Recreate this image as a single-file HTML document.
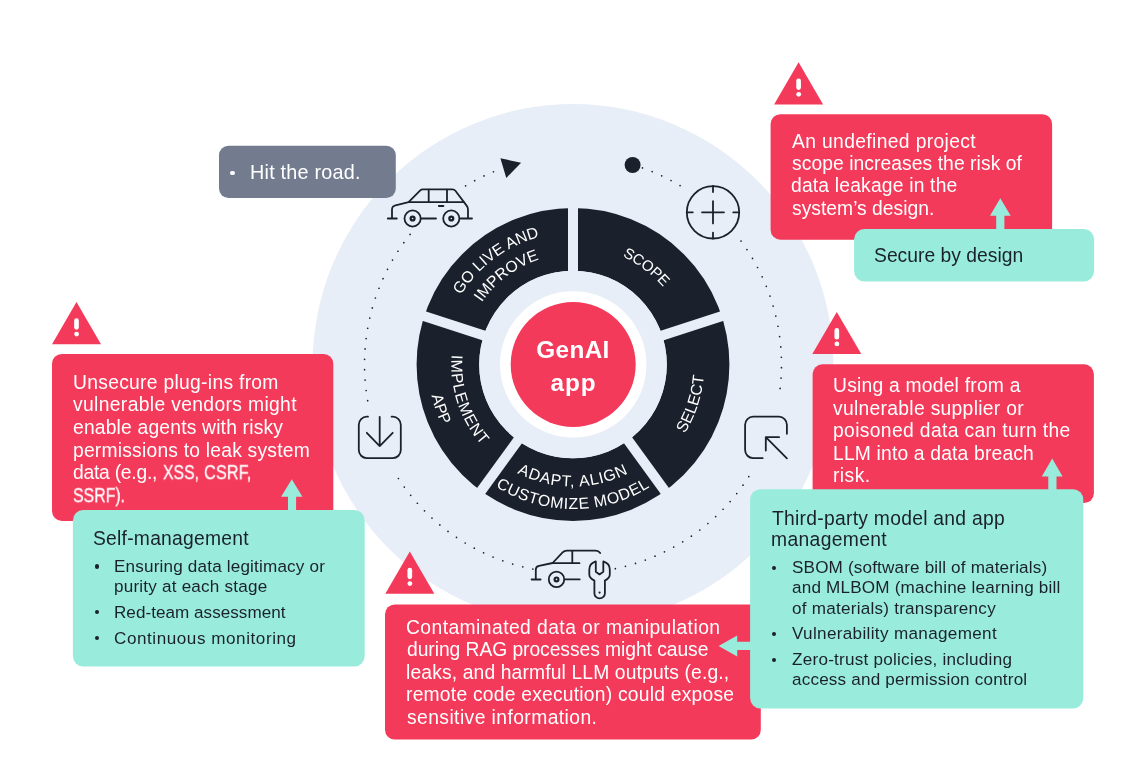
<!DOCTYPE html>
<html lang="en">
<head>
<meta charset="utf-8">
<title>GenAI app lifecycle risks</title>
<style>
html,body{margin:0;padding:0;background:#fff;}
body{width:1146px;height:782px;position:relative;overflow:hidden;font-family:"Liberation Sans",sans-serif;}
#stage{position:absolute;left:0;top:0;width:1146px;height:782px;overflow:hidden;background:#fff;}
svg{position:absolute;left:0;top:0;will-change:transform;}
.ln{position:absolute;white-space:nowrap;line-height:1;will-change:transform;font-size:19.3px;transform:translateY(-0.82em);}
.bl{position:absolute;width:4.2px;height:4.2px;border-radius:50%;background:#1b212c;}
.lab{font-family:"Liberation Sans",sans-serif;font-size:15.8px;fill:#fff;}
.ctr{font-family:"Liberation Sans",sans-serif;font-weight:bold;font-size:24.3px;fill:#fff;text-anchor:middle;}
</style>
</head>
<body>
<div id="stage">

<!-- background circle, ring, icons -->
<svg id="bg" width="1146" height="782" viewBox="0 0 1146 782">
  <circle cx="573" cy="364.5" r="260.4" fill="#e8eef7"/>
  <!-- dotted orbit -->
  <g fill="none" stroke="#1b212c" stroke-width="1.7" stroke-linecap="round" stroke-dasharray="0 10.4">
    <path d="M632.57 164.69A208.5 208.5 0 0 1 680.39 185.78"/>
    <path d="M741.04 241.07A208.5 208.5 0 0 1 778.70 398.55"/>
    <path d="M748.79 476.62A208.5 208.5 0 0 1 614.92 568.74"/>
    <path d="M532.86 569.10A208.5 208.5 0 0 1 397.74 477.45"/>
    <path d="M367.67 400.71A208.5 208.5 0 0 1 412.35 231.60"/>
    <path d="M465.61 185.78A208.5 208.5 0 0 1 502.37 168.33"/>
  </g>
  <!-- start dot and arrow head -->
  <circle cx="632.6" cy="165" r="8" fill="#1b212c"/>
  <path d="M500.4 158.2L521.1 162.8L506.3 177.9Z" fill="#1b212c"/>
  <!-- segmented ring -->
  <circle cx="573" cy="364.5" r="125.1" fill="none" stroke="#1b212c" stroke-width="62.6"/>
  <g stroke="#e8eef7" stroke-width="10" fill="none">
    <path d="M573 364.5L573 199.5"/>
    <path d="M573 364.5L729.92 313.51"/>
    <path d="M573 364.5L669.98 497.99"/>
    <path d="M573 364.5L476.02 497.99"/>
    <path d="M573 364.5L416.08 313.51"/>
  </g>
  <circle cx="573" cy="364.5" r="93.8" fill="#e8eef7"/>
  <circle cx="573.2" cy="364.4" r="73.2" fill="#fff"/>
  <circle cx="573.2" cy="364.4" r="62.5" fill="#f43a5a"/>
  <text class="ctr" x="573" y="357.6" style="letter-spacing:0.4px">GenAI</text>
  <text class="ctr" x="573.6" y="390.6" style="letter-spacing:1px">app</text>

  <!-- ring labels -->
  <defs>
    <path id="p-scope" d="M526.39 255.23A118.8 118.8 0 0 1 690.94 378.77"/>
    <path id="p-go" d="M442.05 379.42A131.8 131.8 0 0 1 625.56 243.63"/>
    <path id="p-imp" d="M463.48 377.56A110.3 110.3 0 0 1 616.45 263.12"/>
    <path id="p-select" d="M599.65 493.17A131.4 131.4 0 0 0 671.11 277.09"/>
    <path id="p-adapt" d="M467.34 425.50A122 122 0 0 0 678.66 425.50"/>
    <path id="p-cust" d="M447.86 436.75A144.5 144.5 0 0 0 698.14 436.75"/>
    <path id="p-impl" d="M481.71 284.02A121.7 121.7 0 0 0 548.95 483.80"/>
    <path id="p-app" d="M464.46 268.81A144.7 144.7 0 0 0 544.40 506.35"/>
  </defs>
  <g class="lab" text-anchor="middle">
    <text style="font-size:15px;letter-spacing:-0.3px"><textPath href="#p-scope" startOffset="50%">SCOPE</textPath></text>
    <text><textPath href="#p-go" startOffset="50%">GO LIVE AND</textPath></text>
    <text><textPath href="#p-imp" startOffset="50%">IMPROVE</textPath></text>
    <text><textPath href="#p-select" startOffset="50%">SELECT</textPath></text>
    <text style="letter-spacing:0.8px"><textPath href="#p-adapt" startOffset="50%">ADAPT, ALIGN</textPath></text>
    <text style="letter-spacing:0.65px"><textPath href="#p-cust" startOffset="50%">CUSTOMIZE MODEL</textPath></text>
    <text style="letter-spacing:0.7px"><textPath href="#p-impl" startOffset="50%">IMPLEMENT</textPath></text>
    <text><textPath href="#p-app" startOffset="50%">APP</textPath></text>
  </g>

  <!-- icons -->
  <g fill="none" stroke="#1b212c" stroke-width="1.8" stroke-linecap="round" stroke-linejoin="round">
    <!-- car (go live) -->
    <path d="M387.8 218.5H396.8M392 218.5V209.5Q392 206.2 395.5 205.4L408.6 202.1L420 190.6Q421.2 189.4 423 189.4H452.5Q454.3 189.4 455.4 190.8L466.6 205.6Q468 207.4 468 209.5V218.5M460.6 218.5H472"/>
    <path d="M408.6 202.1H463.8M428.7 189.6V202M447 189.6V202M438.8 206H443.4M421.4 218.5H436"/>
    <circle cx="412.6" cy="218.5" r="8.1"/><circle cx="451.3" cy="218.5" r="8.1"/>
    <circle cx="412.6" cy="218.5" r="1.95" stroke-width="2.3"/><circle cx="451.3" cy="218.5" r="1.95" stroke-width="2.3"/>
    <!-- crosshair (scope) -->
    <circle cx="713" cy="212.3" r="26.2"/>
    <path d="M702 212.3H724M713 201.2V223.4M713 186V192M713 232.6V238.6M686.8 212.3H692.8M733.2 212.3H739.2"/>
    <!-- select -->
    <path d="M786.9 433.8V424.7A8 8 0 0 0 778.9 416.7H753.1A8 8 0 0 0 745.1 424.7V450.1A8 8 0 0 0 753.1 458.1H762.7"/>
    <path d="M779.1 437.2H765.8V450.6M765.8 437.2L786.9 458.4"/>
    <!-- download (implement) -->
    <path d="M368 416.7H366.8A8 8 0 0 0 358.8 424.7V450.1A8 8 0 0 0 366.8 458.1H392.8A8 8 0 0 0 400.8 450.1V424.7A8 8 0 0 0 392.8 416.7H391.6"/>
    <path d="M379.7 416.8V446M366.8 432.8L379.7 446.1L392.7 432.8"/>
    <!-- car + wrench (adapt) -->
    <path d="M531.6 579.5H540.6M535.8 579.5V569.6Q535.8 566.6 539 565.9L552.6 563L562.6 552.4Q564.3 550.6 567 550.6H595.6Q598.6 550.6 600.2 553"/>
    <path d="M552.6 563.2H579.5M572.3 550.8V563M565.2 579.4H579.7"/>
    <circle cx="556.5" cy="579.4" r="7.7"/><circle cx="556.5" cy="579.4" r="1.9" stroke-width="2.2"/>
    <path d="M595.8 561.4V571.7L599.5 574.4L603.3 571.7V561.4Q609.8 563.4 609.8 569.5V574.5Q609.8 578 604.9 580.6V593.2A5.25 5.25 0 0 1 594.4 593.2V580.6Q589.3 578 589.3 574.5V569.5Q589.3 563.4 595.8 561.4Z"/>
  </g>
  <circle cx="599.6" cy="592.6" r="1.1" fill="#1b212c"/>

  <!-- warning triangles -->
  <g id="warn">
    <g transform="translate(798.6 62.3)"><path d="M0 0L24.5 42.1H-24.5Z" fill="#f43a5a"/><rect x="-2.35" y="16.2" width="4.7" height="11.4" rx="2.35" fill="#fff"/><circle cx="0.1" cy="32" r="2.4" fill="#fff"/></g>
    <g transform="translate(836.8 311.9)"><path d="M0 0L24.5 42.1H-24.5Z" fill="#f43a5a"/><rect x="-2.35" y="16.2" width="4.7" height="11.4" rx="2.35" fill="#fff"/><circle cx="0.1" cy="32" r="2.4" fill="#fff"/></g>
    <g transform="translate(409.8 551.6)"><path d="M0 0L24.5 42.1H-24.5Z" fill="#f43a5a"/><rect x="-2.35" y="16.2" width="4.7" height="11.4" rx="2.35" fill="#fff"/><circle cx="0.1" cy="32" r="2.4" fill="#fff"/></g>
    <g transform="translate(76.5 302.1)"><path d="M0 0L24.5 42.1H-24.5Z" fill="#f43a5a"/><rect x="-2.35" y="16.2" width="4.7" height="11.4" rx="2.35" fill="#fff"/><circle cx="0.1" cy="32" r="2.4" fill="#fff"/></g>
  </g>
</svg>

<!-- boxes and connector arrows -->
<svg id="arrows" width="1146" height="782" viewBox="0 0 1146 782">
  <!-- grey note, red risk boxes, teal mitigation boxes -->
  <rect x="219.0" y="145.7" width="176.8" height="52.3" rx="9.5" fill="#737c8e"/>
  <rect x="770.6" y="114.2" width="281.5" height="125.5" rx="9.8" fill="#f43a5a"/>
  <rect x="812.6" y="364.3" width="281.3" height="138.7" rx="9.8" fill="#f43a5a"/>
  <rect x="385.0" y="604.4" width="375.8" height="135.1" rx="9.8" fill="#f43a5a"/>
  <rect x="52.0" y="354.0" width="281.3" height="166.9" rx="9.8" fill="#f43a5a"/>
  <rect x="854.1" y="229.0" width="240.0" height="52.4" rx="10.3" fill="#99ecdc"/>
  <rect x="750.1" y="489.3" width="333.2" height="219.1" rx="10.3" fill="#99ecdc"/>
  <rect x="72.9" y="510.1" width="291.8" height="156.3" rx="10.3" fill="#99ecdc"/>
  <g fill="#99ecdc">
    <path d="M1000.3 198.2L1010.7 215.7H1004.4V231H996.2V215.7H990Z"/>
    <path d="M1052.2 458.4L1062.6 476.4H1056.5V491H1048.3V476.4H1041.8Z"/>
    <path d="M291.8 479.3L302.4 496.8H296.1V512H288V496.8H281.1Z"/>
    <path d="M718.6 645.9L737.2 635.5V641.8H752V650.1H737.2V656.4Z"/>
  </g>
</svg>

<!-- bullets -->
<div class="bl" style="left:230.3px;top:170.5px;width:4.7px;height:4.7px;background:#fff;"></div>
<div class="bl" style="left:772.1px;top:566.3px;"></div>
<div class="bl" style="left:772.1px;top:632.0px;"></div>
<div class="bl" style="left:772.1px;top:658.2px;"></div>
<div class="bl" style="left:94.8px;top:564.4px;"></div>
<div class="bl" style="left:94.8px;top:610.2px;"></div>
<div class="bl" style="left:94.8px;top:636.1px;"></div>
<!-- text lines -->
<div class="ln" style="left:249.5px;top:178.7px;color:#fff;font-size:19.8px;letter-spacing:0.223px;">Hit the road.</div>
<div class="ln" style="left:791.6px;top:147.5px;color:#fff;letter-spacing:0.356px;">An undefined project</div>
<div class="ln" style="left:791.7px;top:169.9px;color:#fff;letter-spacing:0.063px;">scope increases the risk of</div>
<div class="ln" style="left:791.0px;top:192.4px;color:#fff;letter-spacing:0.184px;">data leakage in the</div>
<div class="ln" style="left:791.7px;top:214.8px;color:#fff;letter-spacing:0.014px;">system’s design.</div>
<div class="ln" style="left:833.0px;top:391.8px;color:#fff;letter-spacing:0.221px;">Using a model from a</div>
<div class="ln" style="left:833.0px;top:414.5px;color:#fff;letter-spacing:0.300px;">vulnerable supplier or</div>
<div class="ln" style="left:833.2px;top:437px;color:#fff;letter-spacing:0.356px;">poisoned data can turn the</div>
<div class="ln" style="left:832.9px;top:459.6px;color:#fff;letter-spacing:0.171px;">LLM into a data breach</div>
<div class="ln" style="left:833.2px;top:482px;color:#fff;letter-spacing:0.428px;">risk.</div>
<div class="ln" style="left:406.0px;top:633.6px;color:#fff;letter-spacing:0.434px;">Contaminated data or manipulation</div>
<div class="ln" style="left:406.8px;top:656.3px;color:#fff;letter-spacing:-0.061px;">during RAG processes might cause</div>
<div class="ln" style="left:406.4px;top:678.7px;color:#fff;letter-spacing:0.134px;">leaks, and harmful LLM outputs (e.g.,</div>
<div class="ln" style="left:406.4px;top:701.4px;color:#fff;letter-spacing:0.222px;">remote code execution) could expose</div>
<div class="ln" style="left:406.9px;top:723.6px;color:#fff;letter-spacing:0.422px;">sensitive information.</div>
<div class="ln" style="left:73.0px;top:388.7px;color:#fff;letter-spacing:0.291px;">Unsecure plug-ins from</div>
<div class="ln" style="left:73.0px;top:411.4px;color:#fff;letter-spacing:0.352px;">vulnerable vendors might</div>
<div class="ln" style="left:73.4px;top:433.7px;color:#fff;letter-spacing:0.180px;">enable agents with risky</div>
<div class="ln" style="left:73.2px;top:456.5px;color:#fff;letter-spacing:0.211px;">permissions to leak system</div>
<div class="ln" style="left:73.4px;top:478.8px;color:#fff;letter-spacing:-0.247px;">data (e.g.,</div>
<div class="ln" style="left:163.1px;top:478.8px;color:#fff;-webkit-text-stroke:0.3px #fff;transform-origin:0 0;transform:translateY(-0.82em) scaleX(0.8196);">XSS,</div>
<div class="ln" style="left:204.1px;top:478.8px;color:#fff;-webkit-text-stroke:0.3px #fff;transform-origin:0 0;transform:translateY(-0.82em) scaleX(0.8501);">CSRF,</div>
<div class="ln" style="left:73.1px;top:501.5px;color:#fff;-webkit-text-stroke:0.3px #fff;transform-origin:0 0;transform:translateY(-0.82em) scaleX(0.823);">SSRF).</div>
<div class="ln" style="left:873.9px;top:261.8px;color:#1b212c;letter-spacing:0.019px;">Secure by design</div>
<div class="ln" style="left:771.8px;top:524.7px;color:#1b212c;letter-spacing:0.271px;">Third-party model and app</div>
<div class="ln" style="left:770.9px;top:546.3px;color:#1b212c;letter-spacing:0.352px;">management</div>
<div class="ln" style="left:792.0px;top:572.9px;color:#1b212c;font-size:17.1px;letter-spacing:0.167px;">SBOM (software bill of materials)</div>
<div class="ln" style="left:792.0px;top:593.4px;color:#1b212c;font-size:17.1px;letter-spacing:0.197px;">and MLBOM (machine learning bill</div>
<div class="ln" style="left:791.5px;top:613.8px;color:#1b212c;font-size:17.1px;letter-spacing:0.243px;">of materials) transparency</div>
<div class="ln" style="left:791.9px;top:639.4px;color:#1b212c;font-size:17.1px;letter-spacing:0.333px;">Vulnerability management</div>
<div class="ln" style="left:791.7px;top:665.4px;color:#1b212c;font-size:17.1px;letter-spacing:0.245px;">Zero-trust policies, including</div>
<div class="ln" style="left:792.0px;top:685.3px;color:#1b212c;font-size:17.1px;letter-spacing:0.186px;">access and permission control</div>
<div class="ln" style="left:93.1px;top:545.3px;color:#1b212c;letter-spacing:0.237px;">Self-management</div>
<div class="ln" style="left:113.8px;top:572px;color:#1b212c;font-size:17.1px;letter-spacing:0.181px;">Ensuring data legitimacy or</div>
<div class="ln" style="left:114.1px;top:592px;color:#1b212c;font-size:17.1px;letter-spacing:0.210px;">purity at each stage</div>
<div class="ln" style="left:113.8px;top:617.7px;color:#1b212c;font-size:17.1px;letter-spacing:0.027px;">Red-team assessment</div>
<div class="ln" style="left:114.0px;top:643.9px;color:#1b212c;font-size:17.1px;letter-spacing:0.550px;">Continuous monitoring</div>
</div>
</body>
</html>
